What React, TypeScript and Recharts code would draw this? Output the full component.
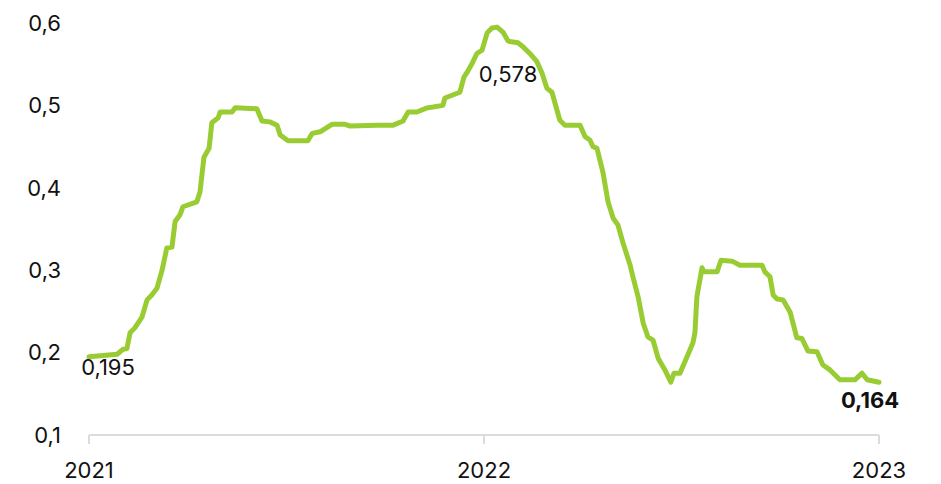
import React from 'react';
import { LineChart, Line, XAxis, YAxis } from 'recharts';

// decimal year of each reading
const periods = [
  2021.0, 2021.071, 2021.086, 2021.096, 2021.104, 2021.116, 2021.134, 2021.147, 2021.159, 2021.172,
  2021.185, 2021.197, 2021.21, 2021.218, 2021.23, 2021.238, 2021.273, 2021.281, 2021.291, 2021.304,
  2021.311, 2021.327, 2021.332, 2021.362, 2021.37, 2021.425, 2021.438, 2021.458, 2021.476, 2021.484,
  2021.504, 2021.554, 2021.565, 2021.585, 2021.615, 2021.648, 2021.661, 2021.729, 2021.77, 2021.795,
  2021.808, 2021.83, 2021.856, 2021.871, 2021.896, 2021.901, 2021.939, 2021.949, 2021.957, 2021.97,
  2021.982, 2021.995, 2022.008, 2022.02, 2022.033, 2022.048, 2022.061, 2022.086, 2022.099, 2022.116,
  2022.134, 2022.147, 2022.159, 2022.172, 2022.192, 2022.205, 2022.243, 2022.256, 2022.268, 2022.276,
  2022.286, 2022.301, 2022.314, 2022.327, 2022.339, 2022.352, 2022.37, 2022.377, 2022.39, 2022.403,
  2022.415, 2022.428, 2022.441, 2022.458, 2022.473, 2022.481, 2022.496, 2022.514, 2022.529, 2022.534,
  2022.539, 2022.552, 2022.557, 2022.59, 2022.6, 2022.628, 2022.648, 2022.704, 2022.711, 2022.724,
  2022.732, 2022.742, 2022.757, 2022.775, 2022.792, 2022.805, 2022.82, 2022.843, 2022.858, 2022.876,
  2022.901, 2022.939, 2022.957, 2022.97, 2023.0,
];

const values = [
  0.195, 0.198, 0.204, 0.205, 0.224, 0.23, 0.243, 0.264, 0.27, 0.278,
  0.3, 0.327, 0.328, 0.359, 0.367, 0.377, 0.383, 0.395, 0.437, 0.448,
  0.479, 0.485, 0.492, 0.492, 0.497, 0.496, 0.481, 0.48, 0.476, 0.464,
  0.457, 0.457, 0.466, 0.468, 0.477, 0.477, 0.475, 0.476, 0.476, 0.481,
  0.492, 0.492, 0.497, 0.498, 0.5, 0.509, 0.516, 0.534, 0.54, 0.551,
  0.563, 0.567, 0.588, 0.594, 0.595, 0.589, 0.578, 0.576, 0.571, 0.563,
  0.553, 0.539, 0.521, 0.516, 0.482, 0.476, 0.476, 0.462, 0.458, 0.45,
  0.448, 0.419, 0.383, 0.363, 0.355, 0.333, 0.306, 0.292, 0.268, 0.236,
  0.219, 0.215, 0.193, 0.179, 0.164, 0.175, 0.175, 0.195, 0.212, 0.224,
  0.268, 0.303, 0.298, 0.298, 0.312, 0.311, 0.306, 0.306, 0.298, 0.292,
  0.27, 0.265, 0.264, 0.249, 0.218, 0.217, 0.202, 0.201, 0.185, 0.179,
  0.167, 0.167, 0.175, 0.167, 0.164,
];

const xTicks = [2021, 2022, 2023];
const yTicks = [0.1, 0.2, 0.3, 0.4, 0.5, 0.6];

// which readings get a value label
const labelledIdx = [0, 56, values.length - 1];

const data = periods.map((t, i) => ({ t, v: values[i] }));

const fmt = (v: number, digits: number) => v.toFixed(digits).replace('.', ',');

const FONT = 'Inter, "Noto Sans", sans-serif';
const GREEN = '#99cc33';

const renderLabel = (props: any) => {
  const { x, y, index, value } = props;
  if (!labelledIdx.includes(index)) return null;
  const last = index === values.length - 1;
  const first = index === 0;
  const dx = first ? 19 : last ? -9 : 0;
  const dy = first ? 10 : last ? 18 : 33;
  return (
    <text
      key={`lbl-${index}`}
      x={x + dx}
      y={y + dy}
      textAnchor="middle"
      dominantBaseline="central"
      fontFamily={FONT}
      fontSize={22}
      fontWeight={last ? 700 : 400}
      fill="#111"
    >
      {fmt(value, 3)}
    </text>
  );
};

const App: React.FC = () => {
  return (
    <div style={{ position: 'absolute', left: 0, top: 0, background: '#fff' }}>
      <LineChart
        width={941}
        height={484}
        data={data}
        margin={{ top: 23, right: 62, bottom: 0, left: 0 }}
      >
        <XAxis
          dataKey="t"
          type="number"
          domain={[2021, 2023]}
          ticks={xTicks}
          tickFormatter={(v) => String(v)}
          height={49}
          axisLine={{ stroke: '#dcdcdc', strokeWidth: 2 }}
          tickLine={{ stroke: '#dcdcdc', strokeWidth: 2 }}
          tickSize={9}
          tickMargin={18}
          tick={{ fill: '#111', fontSize: 22, fontFamily: FONT }}
        />
        <YAxis
          type="number"
          domain={[0.1, 0.6]}
          ticks={yTicks}
          tickFormatter={(v) => fmt(v, 1)}
          width={89}
          axisLine={false}
          tickLine={false}
          tickSize={0}
          tickMargin={28}
          tick={{ fill: '#111', fontSize: 22, fontFamily: FONT }}
        />
        <Line
          type="linear"
          dataKey="v"
          stroke={GREEN}
          strokeWidth={5}
          strokeLinejoin="round"
          strokeLinecap="round"
          dot={false}
          activeDot={false}
          label={renderLabel}
          isAnimationActive={false}
        />
      </LineChart>
    </div>
  );
};

export default App;
